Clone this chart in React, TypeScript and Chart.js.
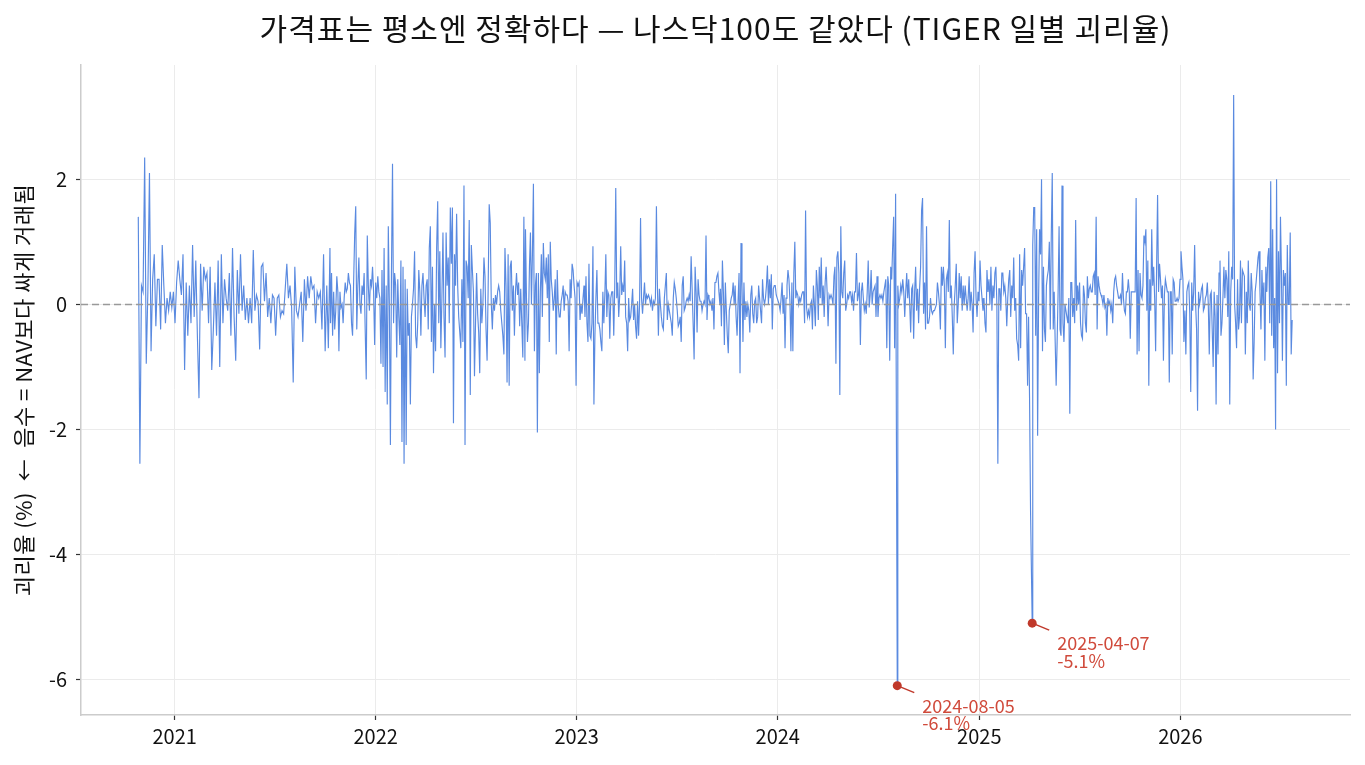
import React, { useEffect, useRef } from 'react';
import { Chart, registerables } from 'chart.js';

Chart.register(...registerables);

const TITLE = '가격표는 평소엔 정확하다 — 나스닥100도 같았다 (TIGER 일별 괴리율)';
const Y_TITLE = '괴리율 (%)  ←  음수 = NAV보다 싸게 거래됨';
const FONT = '"Noto Sans CJK KR", "Noto Sans", sans-serif';

const YEAR_TICKS = [2021, 2022, 2023, 2024, 2025, 2026];
const Y_TICKS = [-6, -4, -2, 0, 2];
const X_MIN = '2020-07-15';
const X_MAX = '2026-11-05';
const Y_MIN = -6.57;
const Y_MAX = 3.83;

// daily premium/discount (%)
const SEG1_RANGE = ['2020-10-27', '2021-10-10'];
const SEG1 = [1.4, -2.55, 0.3, 0.2, 2.35, -0.95, 0.2, 2.1, -0.75, 0.4, 0.8, -0.35, 0.4, 0.4, -0.4, 0.95, 0.3, -0.3, 0.1, -0.1, 0.2, -0.05, 0.2, -0.3, 0.35, 0.7, 0.4, 0.15, 0.8, -1.05, 0.35, -0.5, 0.3, -0.3, 0.95, -0.2, 0.7, -0.5, -1.5, 0.65, -0.1, 0.6, 0.4, 0.5, -0.3, 0.6, -1.05, -0.4, 0.35, -0.5, 0.7, -1.0, 0.8, -0.3, 0.4, 0.1, -0.1, 0.5, -0.5, 0.9, -0.2, -0.9, 0.55, -0.15, 0.8, -0.1, 0.3, -0.25, 0.1, -0.3, 0.1, -0.3, 0.87, -0.1, 0.15, 0.05, -0.72, 0.6, 0.65, 0.05, 0.5, -0.2, 0.1, -0.3, 0.15, 0.1, -0.5, 0.1, 0.15, -0.2, -0.1, -0.15, 0.25, 0.65, 0.1, 0.3, -0.05, -1.25, 0.6, -0.1, -0.2, 0.0, 0.2, -0.6, 0.4, -0.1, 0.45, 0.1, 0.45, 0.25, 0.3, -0.3, 0.2, 0.1, 0.2, -0.4, 0.8, -0.75, 0.3, -0.7, 0.9];

const SEG2_RANGE = ['2021-10-11', '2022-09-29'];
const SEG2 = [-0.3, 0.5, -0.5, 0.2, -0.4, -0.1, 0.45, 0.2, -0.75, 0.2, -0.05, 0.0, -0.3, 0.1, 0.35, 0.2, 0.25, 0.5, 0.35, 0.3, -0.3, -0.5, 0.35, 1.12, 1.57, -0.4, 0.3, 0.75, 0.0, -0.15, 0.3, 0.15, 0.5, -0.4, -1.2, 1.1, 0.3, -0.1, 0.4, 0.3, 0.6, 0.2, -0.65, 0.35, 0.1, 0.45, 0.2, 0.1, -0.95, 0.55, -1.0, 0.9, -1.4, 0.3, -1.6, 1.25, 0.0, -2.25, 0.5, 2.25, -0.3, 0.5, 0.3, -0.85, 0.4, -0.2, -0.65, 0.7, -2.2, 0.6, -2.55, 0.4, -2.25, 0.25, -0.5, -0.3, -1.6, -0.2, 0.0, 0.25, 0.85, -0.5, -0.7, -0.3, 0.55, 0.2, -0.5, 0.3, 0.5, 0.1, -0.2, 0.3, 0.4, -0.4, 0.9, 1.25, -0.6, 0.6, -1.1, 0.0, -0.75, 0.9, 1.65, -0.3, 0.85, -0.7, 0.1, 1.15, -0.2, -0.85, 1.15, 0.3, 0.75, -0.3, 1.55, 0.65, 1.55, -1.9, 0.8, 0.3, 1.45, 0.3, -0.2, -0.45, -0.7, 0.4, -0.6, 1.9, -2.25, 0.7, 0.6, 0.1, 1.35, -1.45, 0.95, 0.55, 0.2, -1.15, -0.3, 0.5, -0.15, -0.45, -1.1, 0.25, -0.3, 0.0, 0.75, 0.45, -0.4, -0.9, 0.25, 1.6, 1.3, 0.0, -0.4, 0.1, -0.1, 0.15, 0.0, 0.2, 0.3, 0.2, -0.1, -0.3, -0.5, -0.8, 0.9, 0.3, -1.25, 0.8, -1.3, 0.6, 0.7, -0.1, 0.3, -0.5, 0.2, 0.5, 0.15, 0.35, -0.35, 0.25, -0.3, -0.85, 1.4, -0.9];

const SEG3_RANGE = ['2022-09-30', '2023-09-18'];
const SEG3 = [1.2, 0.1, -0.6, -0.3, 0.6, 1.15, 0.0, 0.8, 1.93, -0.75, 0.3, 0.5, -2.05, 0.5, -1.1, 0.2, 0.8, -0.2, 0.98, 0.5, 0.4, 0.75, 0.1, 0.8, -0.6, 1.0, 0.4, 0.2, -0.1, 0.1, 0.4, -0.8, 0.55, 0.0, -0.2, -0.2, 0.05, 0.15, 0.3, -0.1, 0.2, 0.15, 0.15, 0.05, -0.75, 0.4, 0.1, 0.65, 0.55, 0.3, 0.1, -1.3, 0.35, 0.3, 0.35, -0.25, 0.0, -0.15, 0.1, 0.3, -0.2, 0.45, -0.3, -0.6, 0.65, -0.5, -0.55, -0.3, 0.93, -1.6, -0.5, 0.1, 0.55, -0.3, -0.3, -0.4, -0.6, -0.75, 0.2, -0.3, 0.15, 0.8, -0.2, 0.2, 0.15, -0.55, 0.1, 0.2, 0.2, -0.5, 0.3, 1.86, 0.1, 0.35, -0.2, 0.15, 0.93, 0.15, 0.3, 0.2, 0.7, -0.2, -0.3, -0.75, 0.1, -0.25, -0.2, 0.0, 0.25, -0.25, 0.0, -0.35, -0.55, 0.05, -0.5, 0.0, 1.38, 0.1, -0.15, 0.1, 0.35, 0.0, 0.15, 0.1, 0.15, 0.1, 0.0, 0.1, -0.1, 0.05, 0.0, 0.1, 1.57, 0.3, -0.5, 0.25, 0.0, -0.2, -0.35, -0.4, 0.1, 0.3, 0.5, -0.25, 0.0, -0.1, -0.2, -0.3, -0.5, 0.1, 0.35, 0.25, 0.1, -0.1, -0.35, -0.3, -0.2, -0.6, 0.3, 0.45, -0.1, -0.05, 0.05, 0.1, 0.05, 0.15, 0.05, 0.77, 0.25, -0.3, -0.88, 0.6, 0.2, -0.45, 0.4, 0.15, 0.05, 0.05, -0.1, 0.0, 0.05, 0.0, 1.1, -0.25, 0.15, 0.1, 0.0, 0.05, -0.1, 0.1, -0.4, 0.35, 0.35, 0.45, 0.5, 0.2, 0.0];

const SEG4_RANGE = ['2023-09-19', '2024-08-02'];
const SEG4 = [0.25, -0.35, 0.7, 0.2, -0.65, 0.35, -0.1, -0.5, -0.78, -0.1, 0.0, 0.1, 0.15, 0.35, 0.0, 0.3, -0.2, -0.5, 0.05, 0.5, -1.1, 0.98, 0.3, -0.6, 0.35, -0.25, 0.05, -0.2, 0.0, -0.1, -0.45, 0.15, 0.3, -0.15, -0.3, 0.05, 0.1, -0.3, -0.2, 0.3, 0.1, -0.1, -0.3, 0.4, 0.1, 0.0, 0.1, 0.3, 0.62, 0.0, 0.4, 0.1, 0.48, -0.4, 0.25, 0.3, 0.3, 0.15, 0.1, 0.05, 0.0, -0.1, 0.1, 0.35, -0.15, 0.15, -0.7, 0.1, 0.3, 0.55, 0.4, 0.05, -0.75, 0.35, -0.75, 0.5, 1.0, 0.1, 0.2, 0.15, 0.0, 0.1, 0.05, 0.15, 0.2, 0.2, -0.3, 1.5, -0.05, -0.2, -0.1, -0.2, 0.0, 0.05, -0.4, 0.3, 0.0, -0.35, 0.55, 0.3, -0.25, 0.6, 0.1, 0.75, 0.0, 0.3, -0.2, 0.35, 0.6, 0.2, -0.35, 0.15, 0.1, 0.15, 0.1, 0.0, 0.45, 0.6, -0.95, 0.75, 0.85, 0.5, -1.45, 1.25, 0.2, 0.1, 0.5, 0.7, -0.1, 0.0, 0.15, 0.1, 0.2, 0.2, 0.05, 0.15, -0.1, 0.2, 0.2, 0.82, 0.05, 0.15, 0.35, -0.65, 0.2, 0.35, 0.1, -0.1, 0.0, -0.15, 0.2, 0.7, -0.05, 0.15, 0.55, 0.0, 0.2, 0.25, 0.3, -0.2, 0.45, -0.2, 0.1, 0.15, 0.1, 0.15, 0.05, 0.2, 0.3, 0.4, -0.7, 0.45, 0.3, -0.9, 0.6, 0.4, 0.93, 1.4, -0.7, 1.77];

const SEG5_RANGE = ['2024-08-06', '2025-04-04'];
const SEG5 = [0.3, 0.0, 0.1, 0.3, 0.2, 0.4, 0.2, -0.2, 0.2, 0.5, 0.1, 0.4, 0.0, -0.45, 0.25, 0.3, -0.55, 0.2, 0.6, -0.1, 0.25, -0.3, 0.25, 0.6, 1.5, 1.7, -0.15, 0.35, -0.4, 1.25, -0.3, -0.3, -0.2, 0.1, -0.1, -0.15, -0.1, -0.1, -0.05, 0.0, 0.35, 0.2, 0.0, -0.4, 0.6, 0.3, 0.6, 0.3, -0.7, 0.4, 0.5, 0.2, 1.35, 0.1, 0.3, -0.2, -0.8, 0.0, 0.3, 0.65, -0.3, 0.0, 0.5, 0.1, 0.45, -0.1, 0.3, 0.0, 0.3, 0.1, -0.1, 0.1, 0.45, -0.1, 0.2, 0.0, -0.45, 0.5, 0.85, 0.1, -0.2, 0.2, 0.05, 0.7, 0.3, 0.1, -0.1, 0.1, -0.3, -0.45, 0.55, 0.2, 0.4, 0.0, 0.6, -0.1, 0.3, 0.1, 0.5, 0.6, 0.0, -2.55, 0.25, 0.25, -0.1, 0.5, 0.5, 0.2, 0.3, 0.1, -0.35, 0.1, 0.4, 0.55, -0.2, 0.3, 0.1, 0.75, -0.1, 0.1, -0.55, -0.65, -0.9, 0.8, -0.7, 0.55, 0.3, 0.6, 0.9, -0.15, -0.15, -1.3, -0.2, -1.5, -3.3];

const SEG6_RANGE = ['2025-04-08', '2026-07-23'];
const SEG6 = [0.95, 1.55, 1.55, -0.5, 1.2, -2.1, 0.1, 1.2, 0.8, 2.0, -0.75, 0.6, -0.4, -0.6, 0.3, 0.45, 0.55, 1.0, -0.4, 1.1, 2.1, -0.4, 0.2, -0.6, -1.3, -0.6, 0.2, 1.25, -0.4, -0.5, 1.9, -0.3, -0.6, 0.0, -0.1, -0.2, -0.3, 0.1, -1.75, 0.35, 0.35, -0.2, 0.1, -0.3, 1.35, -0.1, 0.3, 0.0, 0.35, -0.3, -0.5, -0.55, 0.3, 0.15, -0.3, -0.45, 0.45, 0.1, 0.25, 0.3, 0.2, 0.2, 0.45, 0.5, 0.15, 1.4, -0.4, 0.45, 0.3, 0.2, 0.15, 0.1, 0.0, 0.15, -0.05, 0.0, -0.5, 0.1, 0.0, 0.05,
  -0.1, 0.0, -0.3, 0.2, 0.4, 0.45, 0.3, 0.2, 0.1, 0.1, 0.15, 0.0, 0.5, 0.1, -0.1, -0.15, 0.2, 0.2, 0.4, 0.2, -0.55, 0.2, 0.2, 0.2, 0.2, 0.2, 1.7, -0.8, 0.55, -0.75, 0.5, 0.15, 0.1, 0.3, 1.1, 1.0, 1.2, -0.1, 0.7, -1.3, 0.4, -0.1, 1.2, 0.3, 0.6, 0.1, -0.75, 0.6, 1.75, 0.2, 0.65, 0.4, 0.1, 0.3, -0.9, 0.15, 0.4, 0.3, 0.2, 0.2, -1.25, 0.2, 0.2, -0.8, 0.4, 0.35, 0.05, 0.05, 0.1, 0.05, 0.1, 0.4, 0.85, 0.6, 0.4, -0.6, -0.1, -0.8, 0.2, 0.3, 0.35, -0.15, -1.4, 0.35, -0.1, 0.2, 0.95, 0.0, -0.4, -1.7, 0.2, 0.0, 0.1, 0.25, 0.3, -0.1, -0.05, 0.1, 0.15, 0.35, 0.0, -0.8, 0.15, 0.2, -0.4, -1.0, 0.2, -0.2, -1.6, 0.15, -0.8, 0.5, 0.7, -0.5, -0.3, 0.1, 0.6, 0.1, 0.55, 0.4, -0.2, 0.85, -1.6, 0.2, 0.6, 0.4, 3.35, 0.0, -0.3, -0.7, 0.4, -0.4, -0.2, 0.7, -0.3, 0.55, 0.5, 0.45, -0.8, 0.2, -0.3, 0.7, 0.0, -0.1, 0.5, 0.2, -1.2, -0.6, 0.2, 0.35, 0.55, 0.75, 0.85, 0.2, -0.4, 0.55, 0.0, 0.35, -0.9, 0.6, 0.2, 0.75, 0.9, -0.3, 1.97, -0.5, 1.2, -0.7, 0.1, -2.0, 2.0, -1.1, 0.85, -0.3, 1.4, 0.5, -0.9, 0.55, 0.3, 0.5, -1.3, 0.95, 0.0, 0.0, 1.15, -0.8, -0.25];

// the two crash days called out on the chart
const EVENT_DATES = ['2024-08-05', '2025-04-07'];
const EVENT_VALUES = [-6.1, -5.1];

const LINE_COLOR = '#5a8ae0';
const EVENT_COLOR = '#c0392b';
const EVENT_TEXT = '#d04a3b';

const spread = (range: string[], values: number[]) => {
  const t0 = Date.parse(range[0]);
  const t1 = Date.parse(range[1]);
  return values.map((v, i) => ({ x: t0 + ((t1 - t0) * i) / (values.length - 1), y: v }));
};

const decor = {
  id: 'decor',
  afterDatasetsDraw(chart: any) {
    const { ctx, chartArea, scales } = chart;
    const y0 = scales.y.getPixelForValue(0);
    ctx.save();
    ctx.setLineDash([7, 4]);
    ctx.strokeStyle = '#999999';
    ctx.lineWidth = 1.5;
    ctx.beginPath();
    ctx.moveTo(chartArea.left, y0);
    ctx.lineTo(chartArea.right, y0);
    ctx.stroke();
    ctx.restore();
  },
  afterDraw(chart: any) {
    const { ctx, chartArea, scales } = chart;
    ctx.save();
    EVENT_DATES.forEach((d, i) => {
      const px = scales.x.getPixelForValue(Date.parse(d));
      const py = scales.y.getPixelForValue(EVENT_VALUES[i]);
      ctx.strokeStyle = EVENT_COLOR;
      ctx.lineWidth = 1.5;
      ctx.beginPath();
      ctx.moveTo(px, py);
      ctx.lineTo(px + 17, py + 7);
      ctx.stroke();
      ctx.fillStyle = EVENT_TEXT;
      ctx.font = `18px ${FONT}`;
      ctx.textAlign = 'left';
      ctx.textBaseline = 'alphabetic';
      ctx.fillText(d, px + 25, py + 27);
      ctx.fillText(`${EVENT_VALUES[i].toFixed(1)}%`, px + 25, py + 44.5);
    });

    // chart title, centred over the plot area
    ctx.fillStyle = '#111111';
    ctx.font = `30px ${FONT}`;
    ctx.letterSpacing = '1px';
    ctx.textAlign = 'center';
    ctx.textBaseline = 'middle';
    ctx.fillText(TITLE, (chartArea.left + chartArea.right) / 2, 29);

    // y axis title
    ctx.font = `22px ${FONT}`;
    ctx.letterSpacing = '0.5px';
    ctx.translate(24, (chartArea.top + chartArea.bottom) / 2);
    ctx.rotate(-Math.PI / 2);
    ctx.fillText(Y_TITLE, 0, 0);
    ctx.restore();
  },
};

const App: React.FC = () => {
  const canvasRef = useRef<HTMLCanvasElement | null>(null);

  useEffect(() => {
    const ctx = canvasRef.current?.getContext('2d');
    if (!ctx) return;
    const lineData = [
      ...spread(SEG1_RANGE, SEG1),
      ...spread(SEG2_RANGE, SEG2),
      ...spread(SEG3_RANGE, SEG3),
      ...spread(SEG4_RANGE, SEG4),
      ...spread(SEG5_RANGE, SEG5),
      ...spread(SEG6_RANGE, SEG6),
      ...EVENT_DATES.map((d, i) => ({ x: Date.parse(d), y: EVENT_VALUES[i] })),
    ].sort((a, b) => a.x - b.x);
    const eventData = EVENT_DATES.map((d, i) => ({ x: Date.parse(d), y: EVENT_VALUES[i] }));

    const chart = new Chart(ctx, {
      type: 'line',
      data: {
        datasets: [
          {
            type: 'scatter',
            data: eventData,
            pointRadius: 4.5,
            pointBackgroundColor: EVENT_COLOR,
            pointBorderWidth: 0,
            order: 1,
          } as any,
          {
            data: lineData,
            borderColor: LINE_COLOR,
            borderWidth: 1.15,
            pointRadius: 0,
            tension: 0,
            order: 2,
          },
        ],
      },
      options: {
        animation: false,
        responsive: true,
        maintainAspectRatio: false,
        layout: { padding: { top: 65, right: 15, left: 0, bottom: 0 } },
        plugins: { legend: { display: false }, tooltip: { enabled: false }, title: { display: false } },
        scales: {
          x: {
            type: 'linear',
            min: Date.parse(X_MIN),
            max: Date.parse(X_MAX),
            afterBuildTicks: (scale: any) => {
              scale.ticks = YEAR_TICKS.map(yr => ({ value: Date.UTC(yr, 0, 1) }));
            },
            afterFit: (scale: any) => {
              scale.height = 50;
            },
            ticks: {
              callback: (v: any) => String(new Date(v).getUTCFullYear()),
              color: '#111111',
              font: { family: FONT, size: 20 },
              padding: 4,
              maxRotation: 0,
            },
            grid: { color: '#ebebeb', lineWidth: 1, tickColor: '#333333', tickLength: 5, tickWidth: 1.2 },
            border: { display: true, color: '#cccccc', width: 1.5 },
          },
          y: {
            min: Y_MIN,
            max: Y_MAX,
            afterBuildTicks: (scale: any) => {
              scale.ticks = Y_TICKS.map(v => ({ value: v }));
            },
            afterFit: (scale: any) => {
              scale.width = 81;
            },
            ticks: {
              callback: (v: any) => String(v),
              color: '#111111',
              font: { family: FONT, size: 20 },
              padding: 9,
            },
            grid: { color: '#ebebeb', lineWidth: 1, tickColor: '#333333', tickLength: 5, tickWidth: 1.2 },
            border: { display: true, color: '#cccccc', width: 1.5 },
          },
        },
      } as any,
      plugins: [decor],
    });

    return () => {
      chart.destroy();
    };
  }, []);

  return (
    <div style={{ position: 'fixed', left: 0, top: 0, width: 1365, height: 765, background: '#ffffff' }}>
      <canvas ref={canvasRef} />
    </div>
  );
};

export default App;
